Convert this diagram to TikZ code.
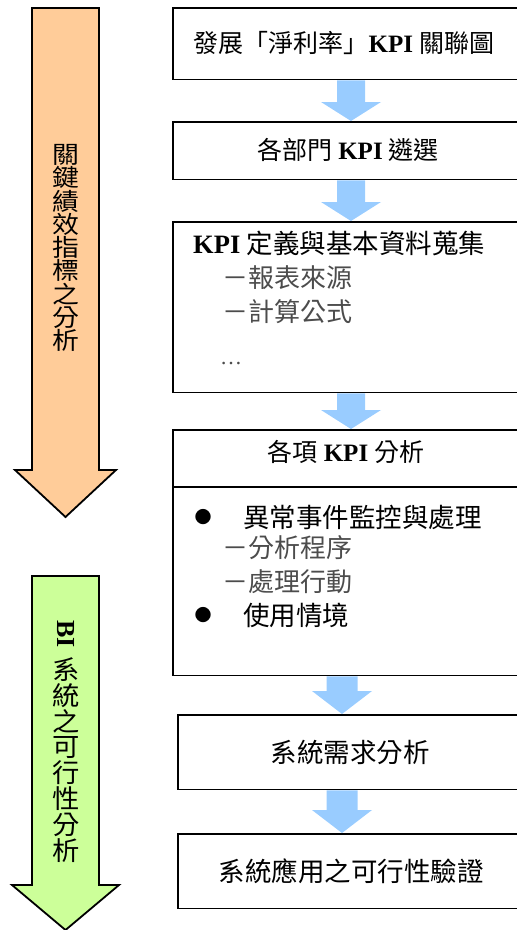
\documentclass[tikz,border=0pt]{standalone}
\usepackage{fontspec}
\setmainfont{Liberation Serif}
\newfontfamily\cjk{Noto Sans CJK TC}
\usetikzlibrary{calc}
\definecolor{peach}{HTML}{FFCC99}
\definecolor{lgreen}{HTML}{CCFF99}
\definecolor{arrblue}{HTML}{99CCFF}
\newcommand\blarrow[5]{%
\fill[arrblue] let \p1=(#1.south), \p2=(#2.north) in
 ({#3pt-#4pt},{\y1-1pt}) -- ({#3pt+#4pt},{\y1-1pt}) -- ({#3pt+#4pt},{\y2+#5pt}) -- ({#3pt+30pt},{\y2+#5pt}) -- (#3pt,{\y2+1pt}) -- ({#3pt-30pt},{\y2+#5pt}) -- ({#3pt-#4pt},{\y2+#5pt}) -- cycle;}
\newcommand\openbox[1]{%
\draw[boxline] (#1.north east) -- (#1.north west) -- (#1.south west) -- (#1.south east);}
\begin{document}
\begin{tikzpicture}[x=1pt,y=-1pt,
  bigarrow/.style={draw=black, line width=1.8pt, line join=miter},
  boxline/.style={draw=black, line width=1.6pt, line join=miter},
  box/.style={draw=none, rectangle, inner sep=0pt, anchor=north west, minimum width=380pt},
  txt/.style={inner sep=0pt, font=\fontsize{25}{28}\selectfont},
  txtb/.style={inner sep=0pt, font=\fontsize{26.5}{30}\selectfont},
  sub/.style={inner sep=0pt, font=\fontsize{26}{30}\selectfont, text=black!70},
  bul/.style={inner sep=0pt, font=\cjk\fontsize{17}{20}\selectfont},
  vtxt/.style={inner sep=0pt, align=center}]
\useasboundingbox (0,0) rectangle (517,930);
\clip (0,0) rectangle (517,930);
% big arrows
\draw[bigarrow, fill=peach] (32,8) -- (99,8) -- (99,470) -- (116,470) -- (65.5,517) -- (15,470) -- (32,470) -- cycle;
\draw[bigarrow, fill=lgreen] (32,576) -- (99,576) -- (99,885) -- (119,885) -- (65.5,930) -- (12,885) -- (32,885) -- cycle;
\node[vtxt, xscale=1.12, font=\cjk\fontsize{24}{23.3}\selectfont] (ta) at (66,248) {關\\鍵\\績\\效\\指\\標\\之\\分\\析};
\node[inner sep=0pt, rotate=-90, font=\bfseries\fontsize{26}{30}\selectfont] (tb1) at (66,634) {BI};
\node[vtxt, xscale=1.05, font=\cjk\fontsize{26}{25.8}\selectfont] (tb2) at (66,760) {系\\統\\之\\可\\行\\性\\分\\析};
% boxes
\node[box, minimum height=71pt] (b1) at (173,8) {};
\node[box, minimum height=57pt] (b2) at (173,122) {};
\node[box, minimum height=170pt] (b3) at (173,222) {};
\node[box, minimum height=245pt] (b4) at (173,430) {};
\node[box, minimum height=74pt] (b5) at (178,715) {};
\node[box, minimum height=74pt] (b6) at (178,834) {};
\openbox{b1}\openbox{b2}\openbox{b3}\openbox{b4}\openbox{b5}\openbox{b6}
\draw[boxline] ($(b4.north west)+(0,57)$) -- ($(b4.north east)+(0,57)$);
% connectors
\blarrow{b1}{b2}{351}{14}{20}
\blarrow{b2}{b3}{351}{14}{20}
\blarrow{b3}{b4}{351}{14}{20}
\blarrow{b4}{b5}{342}{15.5}{24}
\blarrow{b5}{b6}{342}{15.5}{24}
% texts
\node[txt] (l1) at (344,43) {{\cjk 發展「淨利率」}\textbf{KPI} {\cjk 關聯圖}};
\node[txt] (l2) at (348,150) {{\cjk 各部門} \textbf{KPI} {\cjk 遴選}};
\node[txtb, anchor=west] (l3) at (193,243) {\textbf{KPI} {\cjk 定義與基本資料蒐集}};
\node[sub, anchor=west] (l3a) at (222,278) {\cjk －報表來源};
\node[sub, anchor=west] (l3b) at (222,312) {\cjk －計算公式};
\node[sub, anchor=base west, font=\fontsize{22}{26}\selectfont] (l3c) at (220,364) {…};
\node[txt] (l4) at (346,452) {{\cjk 各項} \textbf{KPI} {\cjk 分析}};
\node[bul] (d1) at (203,517) {●};
\node[txtb, anchor=west] (l4a) at (243,517) {\cjk 異常事件監控與處理};
\node[sub, anchor=west] (l4b) at (222,548) {\cjk －分析程序};
\node[sub, anchor=west] (l4c) at (222,582) {\cjk －處理行動};
\node[bul] (d2) at (203,615) {●};
\node[txtb, anchor=west] (l4d) at (243,615) {\cjk 使用情境};
\node[txtb] (l5) at (350,752) {\cjk 系統需求分析};
\node[txtb] (l6) at (351,871) {\cjk 系統應用之可行性驗證};
\end{tikzpicture}
\end{document}
